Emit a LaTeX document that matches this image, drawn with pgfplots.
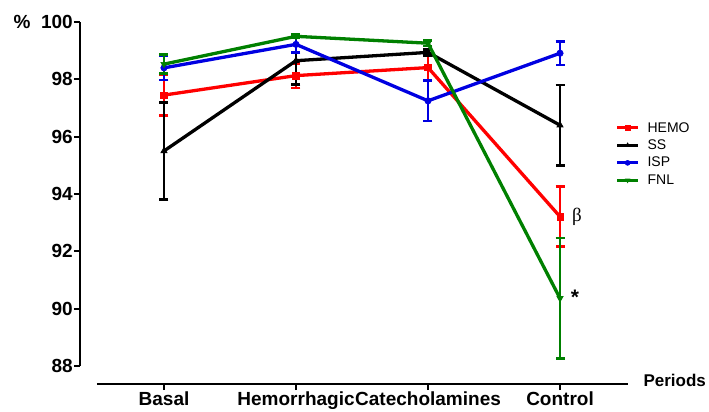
\documentclass[border=0pt]{standalone}
\usepackage{pgfplots}
\pgfplotsset{compat=1.18}
\usepackage{fontspec}
\setmainfont{Liberation Sans}
\newfontfamily\serifgreek{Liberation Serif}
\definecolor{gpred}{RGB}{255,0,0}
\definecolor{gpblue}{RGB}{0,0,225}
\definecolor{gpgreen}{RGB}{0,128,0}
\pgfplotsset{
  eb/.style={line width=2.4pt, forget plot, no markers},
}
\begin{document}
\begin{tikzpicture}
\path[use as bounding box] (-80pt,-46pt) rectangle (629pt,366pt);
\begin{axis}[
  at={(0pt,0pt)}, anchor=south west,
  scale only axis, width=548pt, height=344pt,
  xmin=-0.636, xmax=3.515, ymin=88, ymax=100,
  axis x line=none, axis y line=left,
  y axis line style={line width=2pt, -},
  ytick={88,90,...,100},
  tick align=outside, major tick length=6pt,
  tick style={line width=2pt, black},
  yticklabel style={font=\bfseries\fontsize{19}{19}\selectfont, inner sep=1pt},
  /pgf/number format/assume math mode=true,
  clip=false,
  legend style={at={(0.977,0.712)}, anchor=north west, draw=none, fill=none,
    font=\fontsize{14}{14}\selectfont, row sep=4.2pt, column sep=7pt, inner sep=0pt,
    nodes={inner sep=1pt}},
  legend cell align=left,
  legend image code/.code={\draw[mark repeat=2, mark phase=2, line width=3pt, mark size=2.5pt] plot coordinates {(0pt,0pt) (10.5pt,0pt) (21pt,0pt)};},
]
% vertical error segments (mean - sd to mean + sd)
\addplot[gpred, eb] coordinates {(0,96.73) (0,98.17)};
\addplot[gpred, eb] coordinates {(1,97.70) (1,98.56)};
\addplot[gpred, eb] coordinates {(2,97.98) (2,98.84)};
\addplot[gpred, eb] coordinates {(3,92.16) (3,94.26)};
\addplot[black, eb] coordinates {(0,93.80) (0,97.20)};
\addplot[black, eb] coordinates {(1,97.83) (1,99.47)};
\addplot[black, eb] coordinates {(2,98.84) (2,99.04)};
\addplot[black, eb] coordinates {(3,95.00) (3,97.80)};
\addplot[gpblue, eb] coordinates {(0,97.98) (0,98.82)};
\addplot[gpblue, eb] coordinates {(1,98.94) (1,99.50)};
\addplot[gpblue, eb] coordinates {(2,96.55) (2,97.95)};
\addplot[gpblue, eb] coordinates {(3,98.50) (3,99.32)};
\addplot[gpgreen, eb] coordinates {(0,98.20) (0,98.86)};
\addplot[gpgreen, eb] coordinates {(1,99.44) (1,99.56)};
\addplot[gpgreen, eb] coordinates {(2,99.16) (2,99.36)};
\addplot[gpgreen, eb] coordinates {(3,88.26) (3,92.46)};
% series with error caps
\addplot[gpred, line width=3.3pt, mark=square*, mark size=3.2pt, mark options={solid, line width=0.6pt},
  error bars/.cd, y dir=both, y explicit,
  error bar style={line width=2.6pt, draw=gpred},
  error mark options={line width=2.6pt, mark size=4.5pt, rotate=90, draw=gpred}] coordinates {
  (0,97.45) +- (0,0.72)
  (1,98.13) +- (0,0.43)
  (2,98.41) +- (0,0.43)
  (3,93.21) +- (0,1.05)
};
\addlegendentry{HEMO}
\addplot[black, line width=3.3pt, mark=triangle*, mark size=3.6pt, mark options={solid, line width=0.6pt},
  error bars/.cd, y dir=both, y explicit,
  error bar style={line width=2.6pt, draw=black},
  error mark options={line width=2.6pt, mark size=4.5pt, rotate=90, draw=black}] coordinates {
  (0,95.50) +- (0,1.70)
  (1,98.65) +- (0,0.82)
  (2,98.94) +- (0,0.10)
  (3,96.40) +- (0,1.40)
};
\addlegendentry{SS}
\addplot[gpblue, line width=3.3pt, mark=*, mark size=3.2pt, mark options={solid, line width=0.6pt},
  error bars/.cd, y dir=both, y explicit,
  error bar style={line width=2.6pt, draw=gpblue},
  error mark options={line width=2.6pt, mark size=4.5pt, rotate=90, draw=gpblue}] coordinates {
  (0,98.40) +- (0,0.42)
  (1,99.22) +- (0,0.28)
  (2,97.25) +- (0,0.70)
  (3,98.91) +- (0,0.41)
};
\addlegendentry{ISP}
\addplot[gpgreen, line width=3.3pt, mark=triangle*, mark size=3.6pt, mark options={solid, line width=0.6pt, rotate=180},
  error bars/.cd, y dir=both, y explicit,
  error bar style={line width=2.6pt, draw=gpgreen},
  error mark options={line width=2.6pt, mark size=4.5pt, rotate=90, draw=gpgreen}] coordinates {
  (0,98.53) +- (0,0.33)
  (1,99.50) +- (0,0.06)
  (2,99.26) +- (0,0.10)
  (3,90.36) +- (0,2.10)
};
\addlegendentry{FNL}
\node[font=\bfseries\fontsize{19}{19}\selectfont, anchor=center] at (rel axis cs:0,1) [xshift=-58pt] {\%};
\node[font=\serifgreek\fontsize{19}{19}\selectfont, anchor=center] at (axis cs:3,93.21) [xshift=17pt, yshift=0pt] {β};
\node[font=\bfseries\fontsize{21}{21}\selectfont, anchor=center, inner sep=0pt] at (axis cs:3,90.36) [xshift=15pt, yshift=1pt] {*};
\end{axis}
\begin{axis}[
  at={(17pt,-18pt)}, anchor=south west,
  scale only axis, width=531pt, height=10pt,
  xmin=-0.508, xmax=3.515, ymin=0, ymax=1,
  axis x line=bottom, axis y line=none,
  x axis line style={line width=2pt, -},
  xtick={0,1,2,3},
  xticklabels={Basal, Hemorrhagic, Catecholamines, Control},
  tick align=outside, major tick length=6pt,
  tick style={line width=2pt, black},
  xticklabel style={font=\bfseries\fontsize{19}{19}\selectfont, inner sep=1pt, yshift=-1pt},
  clip=false,
]
\node[font=\bfseries\fontsize{17}{17}\selectfont, anchor=west] at (rel axis cs:1,0) [xshift=12pt, yshift=4pt] {Periods};
\end{axis}
\end{tikzpicture}
\end{document}
